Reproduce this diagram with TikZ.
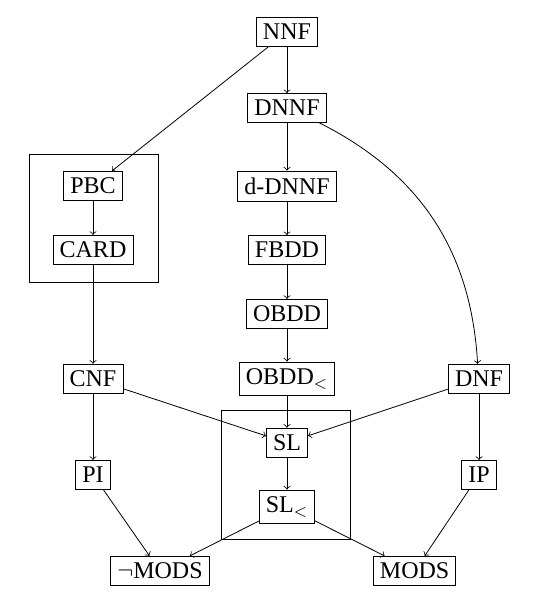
\documentclass[tikz,border=0pt,12pt]{standalone}
\usepackage{amsmath,amssymb}
\usepackage{fontspec}
\setmainfont{Liberation Serif}

\begin{document}
\begin{tikzpicture}[x=1pt, y=1pt,
  lang/.style={draw, rectangle, inner sep=3.3pt},
  group/.style={draw, rectangle, minimum width=64.5pt, minimum height=64.3pt}]

\useasboundingbox (0,0) rectangle (277,-304.5);

% Grouping boxes
\node[group] (left) at (46.8,-109.2) {};
\node[group] (mid) at (143.1,-237.5) {};

% Languages
\node[lang] (nnf) at (143.5,-16) {NNF};
\node[lang] (dnnf) at (143.5,-54) {DNNF};
\node[lang] (ddnnf) at (143.5,-93) {d-DNNF};
\node[lang] (fbdd) at (143.5,-125) {FBDD};
\node[lang] (obdd) at (143.5,-157) {OBDD};
\node[lang] (obddo) at (143.5,-189.4) {OBDD$_<$};
\node[lang] (sl) at (143.5,-221.4) {SL};
\node[lang] (slo) at (143.5,-253.4) {SL$_<$};

\node[lang] (pbc) at (46.5,-93) {PBC};
\node[lang] (card) at (46.5,-125) {CARD};
\node[lang] (cnf) at (46.5,-189.4) {CNF};
\node[lang] (pi) at (46.5,-237.4) {PI};

\node[lang] (dnf) at (239.5,-189.4) {DNF};
\node[lang] (ip) at (239.5,-237.4) {IP};

\node[lang] (nmods) at (80,-285.5) {$\neg$MODS};
\node[lang] (mods) at (207.3,-285.5) {MODS};

% Edges
\draw[->] (nnf) -- (dnnf);
\draw[->] (nnf) -- (pbc);
\draw[->] (dnnf) -- (ddnnf);
\draw[->] (dnnf) to[bend left] (dnf);
\draw[->] (ddnnf) -- (fbdd);
\draw[->] (fbdd) -- (obdd);
\draw[->] (obdd) -- (obddo);
\draw[->] (obddo) -- (sl);
\draw[->] (pbc) -- (card);
\draw[->] (card) -- (cnf);
\draw[->] (cnf) -- (sl);
\draw[->] (cnf) -- (pi);
\draw[->] (dnf) -- (sl);
\draw[->] (dnf) -- (ip);
\draw[->] (sl) -- (slo);
\draw[->] (slo) -- (nmods);
\draw[->] (slo) -- (mods);
\draw[->] (pi) -- (nmods);
\draw[->] (ip) -- (mods);

\end{tikzpicture}
\end{document}
